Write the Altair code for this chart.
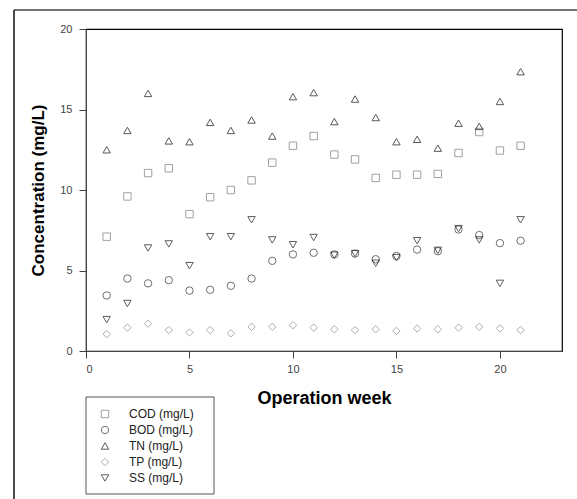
import altair as alt
import pandas as pd

weeks = list(range(1, 22))
cod = [7.1, 9.6, 11.05, 11.35, 8.5, 9.55, 10.0, 10.6, 11.7, 12.75, 13.35, 12.2, 11.9, 10.75, 10.95, 10.95, 11.0, 12.3, 13.6, 12.45, 12.75]
bod = [3.45, 4.5, 4.2, 4.4, 3.75, 3.8, 4.05, 4.5, 5.6, 6.0, 6.1, 6.0, 6.05, 5.7, 5.9, 6.3, 6.2, 7.55, 7.2, 6.7, 6.85]
tn = [12.5, 13.7, 16.0, 13.05, 13.0, 14.2, 13.7, 14.35, 13.35, 15.8, 16.05, 14.25, 15.65, 14.5, 13.0, 13.15, 12.6, 14.15, 13.95, 15.5, 17.35]
tp = [1.05, 1.45, 1.7, 1.3, 1.15, 1.3, 1.1, 1.5, 1.5, 1.6, 1.45, 1.35, 1.3, 1.35, 1.25, 1.4, 1.35, 1.45, 1.5, 1.4, 1.3]
ss = [1.95, 2.95, 6.4, 6.65, 5.3, 7.1, 7.1, 8.15, 6.9, 6.6, 7.05, 5.95, 6.05, 5.45, 5.8, 6.85, 6.25, 7.6, 6.9, 4.2, 8.15]

series_names = ["COD (mg/L)", "BOD (mg/L)", "TN (mg/L)", "TP (mg/L)", "SS (mg/L)"]
series_values = [cod, bod, tn, tp, ss]
series_shapes = ["square", "circle", "triangle-up", "diamond", "triangle-down"]
series_colors = ["#7a7a7a", "#333333", "#111111", "#8c8c8c", "#1a1a1a"]
series_sizes = [55, 55, 60, 95, 60]

rows = []
for name, vals in zip(series_names, series_values):
    for w, v in zip(weeks, vals):
        rows.append({"week": w, "value": v, "series": name})
df = pd.DataFrame(rows)

FONT = "Liberation Sans"
W, H = 476, 322

leg = dict(title=None, orient="none", legendX=4, legendY=379,
           symbolSize=45, symbolStrokeWidth=1, symbolOffset=9,
           labelOffset=18, rowPadding=4, labelFontSize=12,
           labelFont=FONT, labelColor="#222222")

points = alt.Chart(df).mark_point(filled=False, strokeWidth=1).encode(
    x=alt.X("week:Q", scale=alt.Scale(domain=[0, 23], nice=False),
            axis=alt.Axis(values=[0, 5, 10, 15, 20], title="Operation week")),
    y=alt.Y("value:Q", scale=alt.Scale(domain=[0, 20], nice=False),
            axis=alt.Axis(values=[0, 5, 10, 15, 20], title="Concentration (mg/L)")),
    shape=alt.Shape("series:N", sort=series_names,
                    scale=alt.Scale(domain=series_names, range=series_shapes),
                    legend=alt.Legend(**leg)),
    color=alt.Color("series:N", sort=series_names,
                    scale=alt.Scale(domain=series_names, range=series_colors),
                    legend=alt.Legend(**leg)),
    size=alt.Size("series:N", sort=series_names,
                  scale=alt.Scale(domain=series_names, range=series_sizes),
                  legend=None),
)

legend_box = alt.Chart(pd.DataFrame({"a": [0]})).mark_rect(
    fill=None, stroke="#555555", strokeWidth=1
).encode(x=alt.value(0), x2=alt.value(128), y=alt.value(368), y2=alt.value(465))

frame_top = alt.Chart(pd.DataFrame({"a": [0]})).mark_rule(
    color="#444444", strokeWidth=1.5
).encode(x=alt.value(-72), x2=alt.value(500), y=alt.value(-19))

frame_left = alt.Chart(pd.DataFrame({"a": [0]})).mark_rule(
    color="#111111", strokeWidth=1.5
).encode(x=alt.value(-72), y=alt.value(-19), y2=alt.value(480))

chart = alt.layer(legend_box, frame_top, frame_left, points).properties(
    width=W, height=H,
    autosize=alt.AutoSizeParams(type="none"),
    padding={"left": 86, "top": 29, "right": 15, "bottom": 148},
    background="white",
).configure_view(
    stroke="#000000", strokeWidth=1.2
).configure_axis(
    grid=False, domainColor="#444444", tickColor="#444444", tickSize=7,
    labelFont=FONT, labelFontSize=11, labelColor="#444444", labelPadding=6,
    titleFont=FONT, titleFontWeight="bold", titleColor="#000000",
).configure_axisX(
    titleFontSize=18, titlePadding=15, labelPadding=5
).configure_axisY(
    titleFontSize=17, titlePadding=12, labelPadding=7
)

chart.save("out.html", embed_options={"renderer": "svg", "actions": False})
